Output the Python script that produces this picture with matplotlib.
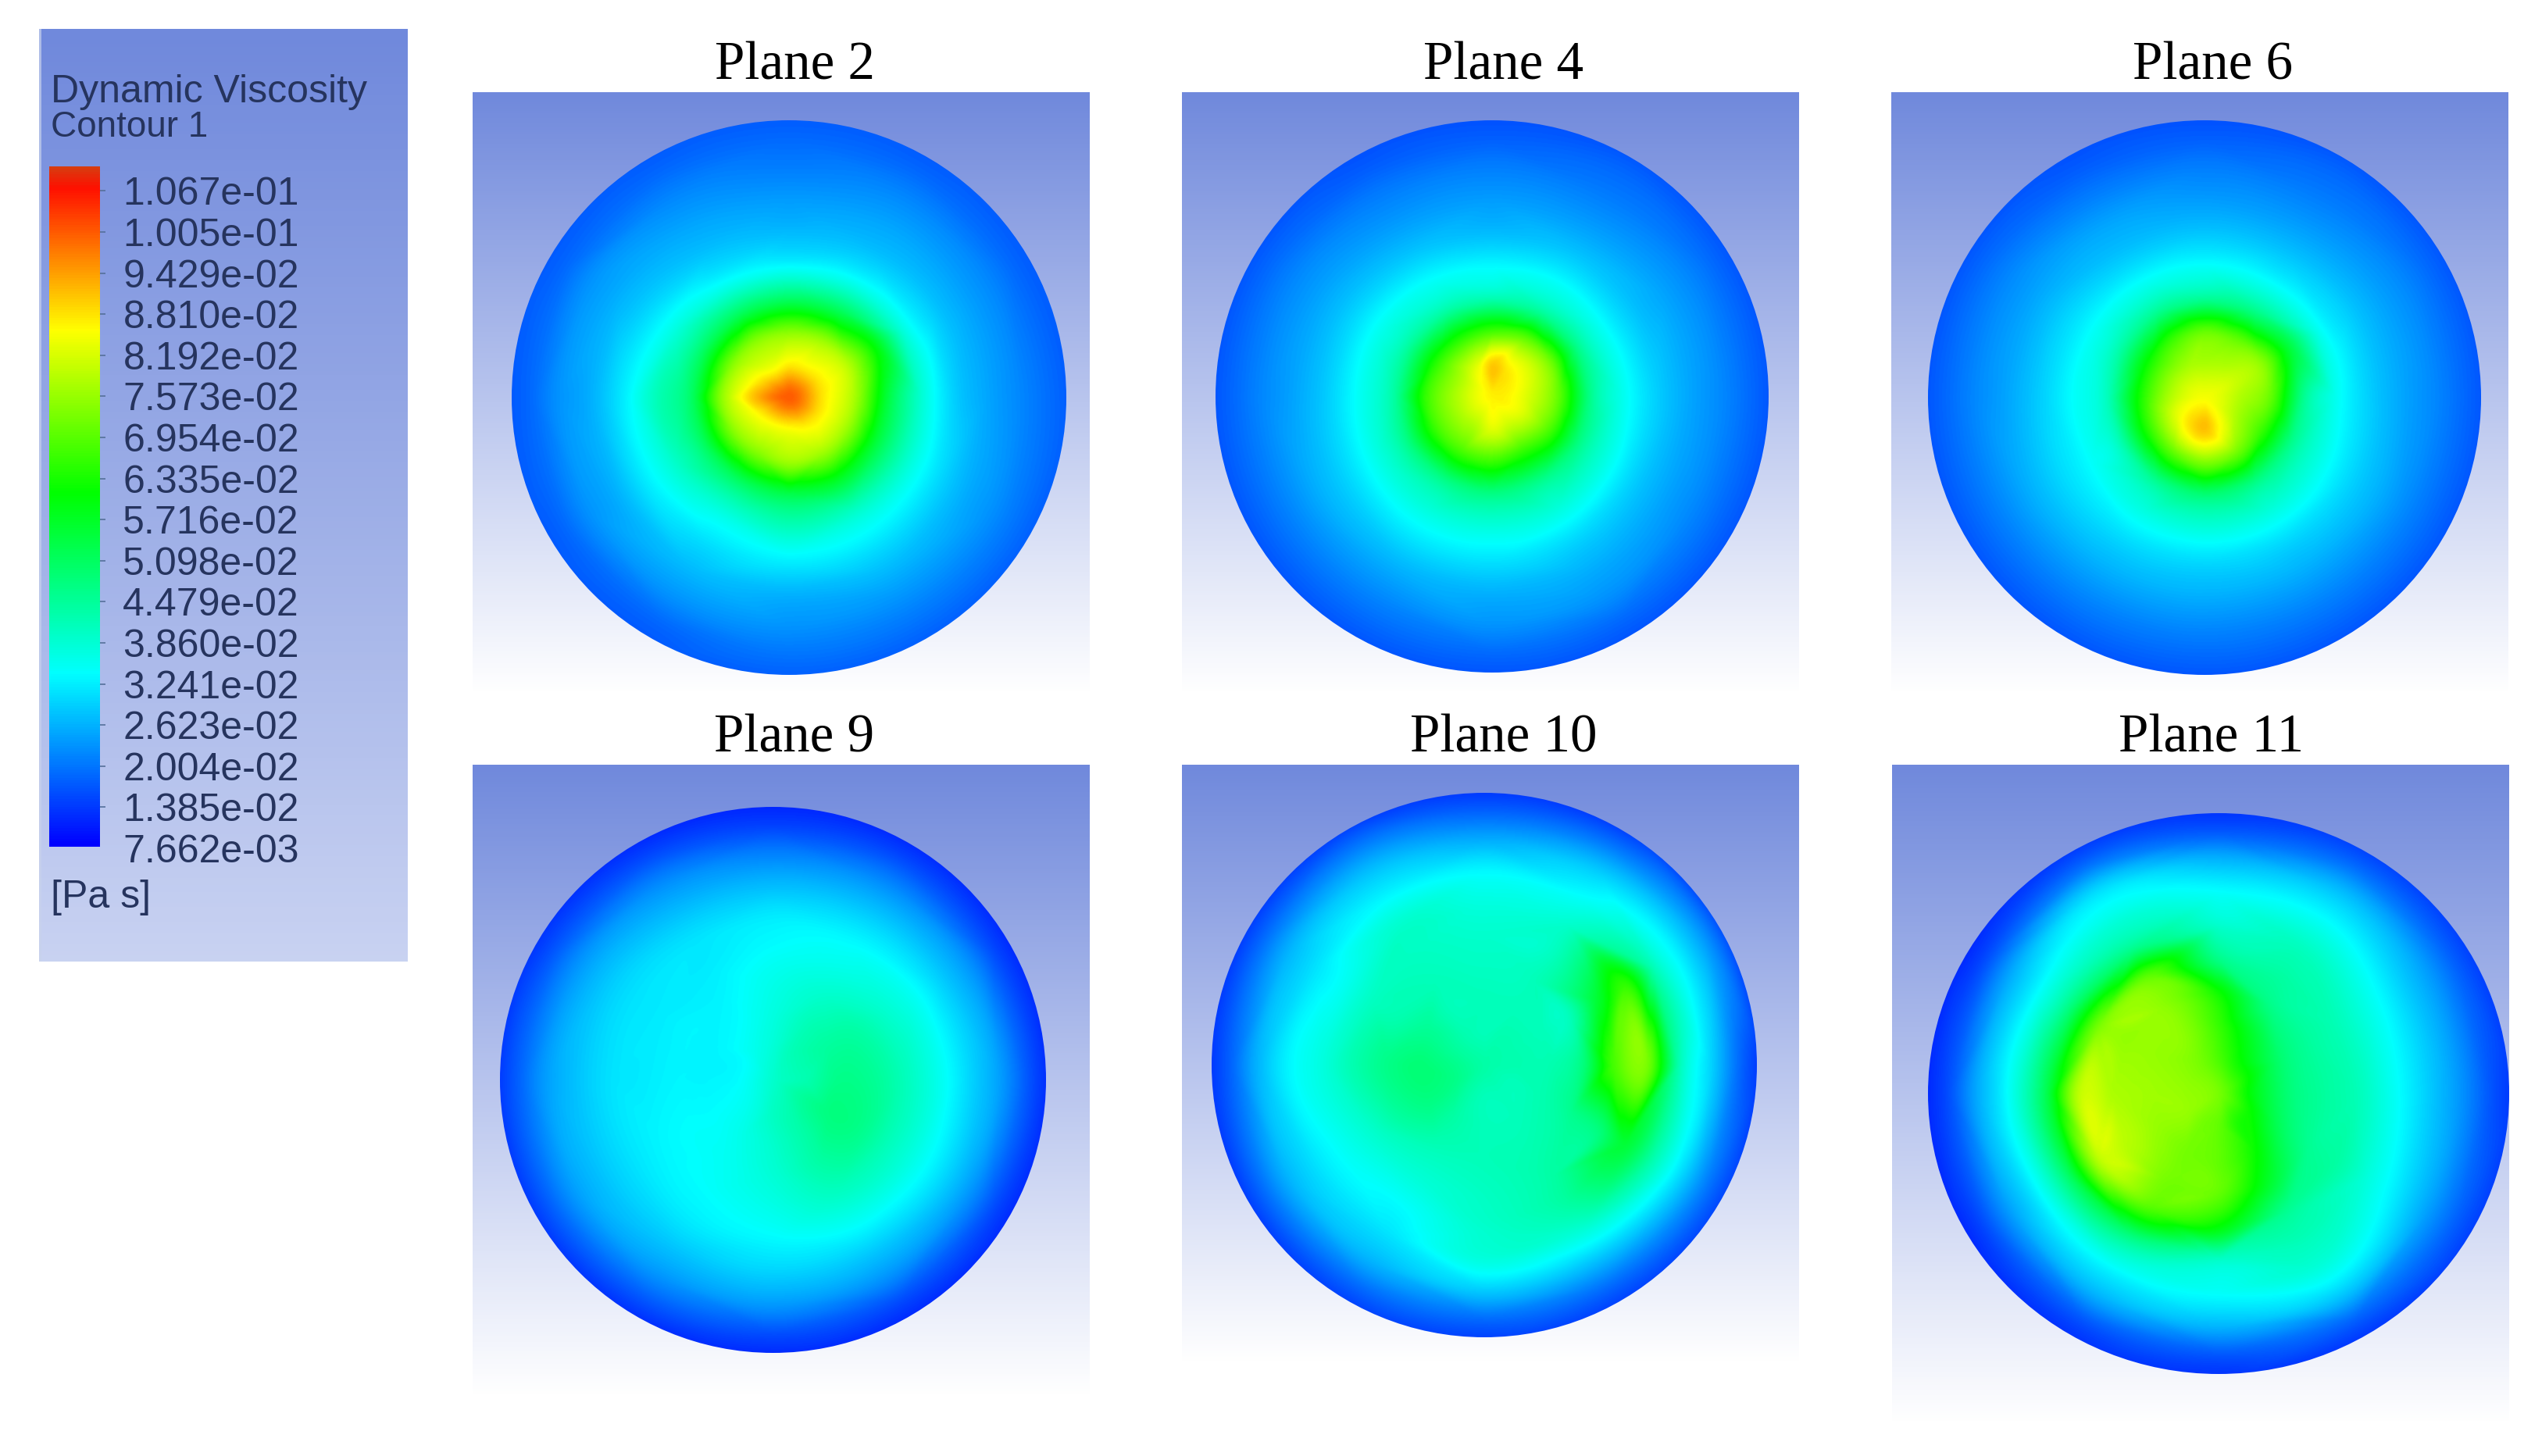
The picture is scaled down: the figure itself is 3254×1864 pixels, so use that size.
import numpy as np
import matplotlib
matplotlib.use("Agg")
import matplotlib.pyplot as plt
import matplotlib.tri as tri
from matplotlib.colors import LinearSegmentedColormap
from matplotlib.patches import Ellipse

figW, figH = 3254, 1864

# legend
legendTitle = "Dynamic Viscosity"
legendSub = "Contour 1"
legendUnit = "[Pa s]"
tickValues = [1.067e-01, 1.005e-01, 9.429e-02, 8.810e-02, 8.192e-02, 7.573e-02, 6.954e-02,
              6.335e-02, 5.716e-02, 5.098e-02, 4.479e-02, 3.860e-02, 3.241e-02, 2.623e-02,
              2.004e-02, 1.385e-02, 7.662e-03]

# viscosity in mPa s. centre value, then one row per angle
# (0, 30, ... 330 deg counterclockwise from the right), one column per ring radius
ringRadius = [0.12, 0.24, 0.36, 0.48, 0.60, 0.72, 0.84, 0.94, 1.05]
angleDeg = [0, 30, 60, 90, 120, 150, 180, 210, 240, 270, 300, 330]

plane2Centre = 97
plane2 = [[85, 74, 52, 37, 28, 24, 21, 18.5, 16],
          [85, 76, 58, 36, 28, 24, 21, 18, 16],
          [84, 73, 50, 34, 27, 24, 21, 18, 16],
          [84, 71, 48, 32, 26, 23, 20, 18, 16],
          [82, 71, 48, 33, 27, 24, 21, 18, 16],
          [85, 71, 48, 36, 29, 25, 22, 18, 16],
          [89, 73, 48, 40, 31, 25, 22, 18, 16],
          [84, 71, 48, 38, 31, 25, 22, 18, 16],
          [82, 70, 48, 36, 30, 26, 22, 18, 16],
          [82, 73, 50, 39, 31, 25, 22, 19, 16],
          [84, 73, 53, 38, 31, 26, 22, 19, 16],
          [85, 73, 52, 38, 30, 25, 22, 19, 16]]

plane4Centre = 84
plane4 = [[80, 68, 44, 34, 28, 24, 21, 18, 15],
          [82, 70, 44, 33, 27, 24, 21, 18, 15],
          [84, 68, 42, 33, 27, 23, 20, 18, 15],
          [87, 64, 40, 32, 26, 23, 20, 17, 15],
          [80, 62, 41, 33, 27, 23, 20, 17, 15],
          [76, 62, 42, 34, 28, 24, 21, 18, 15],
          [76, 64, 42, 34, 28, 24, 21, 18, 15],
          [76, 64, 44, 35, 29, 25, 21, 18, 15],
          [76, 64, 44, 36, 30, 25, 21, 18, 15],
          [80, 64, 45, 36, 30, 25, 22, 18, 15],
          [78, 62, 44, 36, 29, 25, 22, 18, 15],
          [80, 66, 45, 35, 28, 24, 21, 18, 15]]

plane6Centre = 82
plane6 = [[76, 68, 44, 34, 28, 24, 21, 18, 15],
          [78, 72, 52, 34, 28, 24, 21, 18, 15],
          [76, 68, 45, 33, 27, 23, 20, 18, 15],
          [75, 68, 43, 33, 27, 23, 20, 17, 15],
          [75, 64, 43, 33, 27, 24, 20, 17, 15],
          [75, 60, 41, 33, 28, 24, 21, 18, 15],
          [76, 60, 39, 33, 28, 24, 21, 18, 15],
          [80, 62, 39, 33, 29, 25, 21, 18, 15],
          [85, 66, 43, 35, 29, 25, 21, 18, 15],
          [88, 70, 46, 36, 29, 25, 21, 18, 15],
          [82, 68, 45, 36, 29, 25, 21, 18, 15],
          [76, 64, 44, 35, 29, 25, 21, 18, 15]]

plane9Centre = 38
plane9 = [[41, 45, 44, 40, 35, 29, 23, 16, 10],
          [41, 43, 42, 38, 34, 28, 22, 15, 10],
          [40, 40, 38, 35, 32, 27, 21, 15, 10],
          [37, 36, 35, 33, 31, 26, 20, 14, 10],
          [35, 33, 32, 31, 30, 26, 21, 15, 10],
          [33, 32, 32, 31, 30, 27, 22, 16, 11],
          [33, 32, 32, 31, 30, 27, 23, 17, 11],
          [34, 33, 33, 32, 30, 27, 23, 17, 11],
          [36, 35, 34, 33, 31, 27, 22, 16, 10],
          [39, 38, 37, 35, 32, 28, 22, 15, 10],
          [41, 42, 42, 39, 34, 28, 22, 15, 10],
          [43, 46, 45, 40, 35, 29, 22, 15, 10]]

plane10Centre = 42
plane10 = [[41, 41, 46, 66, 70, 40, 28, 18, 11],
           [41, 40, 40, 54, 63, 40, 30, 22, 11],
           [41, 40, 40, 39, 38, 33, 27, 19, 11],
           [40, 40, 39, 38, 36, 32, 24, 17, 11],
           [41, 40, 40, 39, 38, 32, 26, 19, 11],
           [43, 44, 41, 39, 34, 30, 25, 18, 11],
           [45, 47, 45, 41, 36, 32, 25, 17, 11],
           [45, 46, 43, 38, 34, 30, 25, 18, 11],
           [42, 42, 40, 37, 33, 30, 25, 18, 12],
           [40, 40, 40, 39, 38, 36, 27, 18, 12],
           [40, 40, 41, 42, 42, 36, 26, 18, 12],
           [40, 41, 44, 46, 53, 40, 28, 19, 12]]

plane11Centre = 70
plane11 = [[57, 47, 43, 40, 34, 28, 22, 16, 12],
           [59, 48, 43, 40, 35, 29, 23, 17, 12],
           [61, 54, 45, 42, 39, 33, 26, 18, 12],
           [66, 64, 60, 45, 38, 33, 25, 16, 11],
           [70, 72, 72, 68, 44, 36, 29, 18, 11],
           [72, 73, 73, 70, 46, 33, 24, 15, 10],
           [73, 74, 75, 77, 50, 34, 24, 15, 10],
           [73, 73, 76, 76, 48, 32, 23, 15, 10],
           [70, 70, 70, 66, 45, 33, 25, 16, 11],
           [68, 68, 68, 58, 38, 33, 25, 16, 11],
           [62, 60, 54, 44, 40, 36, 27, 17, 11],
           [60, 50, 44, 42, 36, 30, 23, 17, 12]]

planeNames = ["Plane 2", "Plane 4", "Plane 6", "Plane 9", "Plane 10", "Plane 11"]
planeFields = [plane2, plane4, plane6, plane9, plane10, plane11]
planeCentres = [plane2Centre, plane4Centre, plane6Centre, plane9Centre, plane10Centre, plane11Centre]

# layout in picture pixels: left, top, right, bottom
panelBoxes = [(605, 118, 1395, 888), (1513, 118, 2303, 888), (2421, 118, 3211, 888),
              (605, 979, 1395, 1787), (1513, 979, 2303, 1744), (2422, 979, 3212, 1822)]
discBoxes = [(655, 154, 1365, 864), (1556, 154, 2264, 861), (2468, 154, 3176, 864),
             (640, 1033, 1339, 1732), (1551, 1015, 2249, 1712), (2468, 1041, 3212, 1759)]
titleX = [1017, 1925, 2833, 1017, 1925, 2830]
titleBase = [101, 101, 101, 962, 962, 962]

rainbow = LinearSegmentedColormap.from_list(
    "ansys", [(0, "#0000ff"), (0.254, "#00ffff"), (0.52, "#00ff00"), (0.76, "#ffff00"),
              (0.97, "#ff1000"), (1, "#d83c10")])
bgRamp = LinearSegmentedColormap.from_list("bg", ["#7089dc", "#ffffff"])
textColor = "#26345e"


def pxAxes(fig, box):
    l, t, r, b = box
    ax = fig.add_axes([l / figW, 1 - b / figH, (r - l) / figW, (b - t) / figH])
    return ax


fig = plt.figure(figsize=(figW / 100, figH / 100), dpi=100, facecolor="white")

# legend panel
legendAx = pxAxes(fig, (50, 37, 522, 1231))
legendAx.imshow(np.linspace(0, 0.62, 256).reshape(-1, 1), cmap=bgRamp, vmin=0, vmax=1,
                aspect="auto", extent=[0, 1, 0, 1])
legendAx.axvspan(0, 0.007, color="#c8d2ec", alpha=0.7, lw=0)
legendAx.set_xlim(0, 1)
legendAx.set_ylim(0, 1)
legendAx.set_axis_off()
legendAx.text(15 / 472, 1 - 81 / 1194, legendTitle, family="Liberation Sans", fontsize=36,
              color=textColor, va="center")
legendAx.text(15 / 472, 1 - 126 / 1194, legendSub, family="Liberation Sans", fontsize=33,
              color=textColor, va="center")
legendAx.text(15 / 472, 1 - 1112 / 1194, legendUnit, family="Liberation Sans", fontsize=36,
              color=textColor, va="center")

# colour bar, tick labels spaced as in the picture
barAx = pxAxes(fig, (63, 213, 128, 1084))
barAx.set_zorder(2)
vTop, vBot = tickValues[0], tickValues[-1]
pxPerValue = (1086 - 244) / (vTop - vBot)
barLow = vBot + (1086 - 1084) / pxPerValue
barHigh = vTop + (244 - 213) / pxPerValue
barAx.imshow(np.linspace(1, 0, 256).reshape(-1, 1), cmap=rainbow, vmin=0, vmax=1, aspect="auto",
             extent=[0, 1, barLow, barHigh])
barAx.set_xticks([])
barAx.yaxis.tick_right()
barAx.set_yticks(tickValues[:-1], ["%.3e" % v for v in tickValues[:-1]])
barAx.set_ylim(barLow, barHigh)
barAx.tick_params(axis="y", length=5, width=1.2, color="#55709a", pad=178.5, labelsize=36,
                  labelcolor=textColor)
for lab in barAx.get_yticklabels():
    lab.set_family("Liberation Sans")
    lab.set_ha("right")
for side in barAx.spines.values():
    side.set_visible(False)
# last label sits just under the end of the bar
barAx.annotate("%.3e" % tickValues[-1], xy=(1, vBot), xycoords=("axes fraction", "data"),
               xytext=(183.5, 0), textcoords="offset points", ha="right", va="center_baseline",
               family="Liberation Sans", fontsize=36, color=textColor, annotation_clip=False)

# node positions shared by all planes
ang = np.deg2rad(angleDeg)
rr, aa = np.meshgrid(ringRadius, ang)
nodeX = np.r_[0, (rr * np.cos(aa)).ravel()]
nodeY = np.r_[0, (rr * np.sin(aa)).ravel()]
mesh = tri.Triangulation(nodeX, nodeY)
gx, gy = np.meshgrid(np.linspace(-1.02, 1.02, 800), np.linspace(1.02, -1.02, 800))

for i, name in enumerate(planeNames):
    l, t, r, b = panelBoxes[i]
    dl, dt, dr, db = discBoxes[i]
    cx, cy, rx, ry = (dl + dr) / 2, (dt + db) / 2, (dr - dl) / 2, (db - dt) / 2
    ax = pxAxes(fig, panelBoxes[i])
    xlim = ((l - cx) / rx, (r - cx) / rx)
    ylim = ((cy - b) / ry, (cy - t) / ry)
    ax.imshow(np.linspace(0, 1, 256).reshape(-1, 1), cmap=bgRamp, vmin=0, vmax=1, aspect="auto",
              extent=[xlim[0], xlim[1], ylim[0], ylim[1]])
    vals = np.r_[planeCentres[i], np.array(planeFields[i], dtype=float).ravel()]
    field = tri.CubicTriInterpolator(mesh, vals, kind="geom")(gx, gy)
    im = ax.imshow(field, cmap=rainbow, vmin=vBot * 1000, vmax=vTop * 1000, aspect="auto",
                   extent=[-1.02, 1.02, -1.02, 1.02], interpolation="bilinear")
    disc = Ellipse((0, 0), 2, 2, transform=ax.transData, facecolor="none", edgecolor="none")
    ax.add_patch(disc)
    im.set_clip_path(disc)
    ax.set_xlim(xlim)
    ax.set_ylim(ylim)
    ax.set_axis_off()
    fig.text(titleX[i] / figW, 1 - titleBase[i] / figH, name, family="Liberation Serif",
             fontsize=49.7, color="black", ha="center", va="baseline")

fig.savefig("out.png", dpi=100)
